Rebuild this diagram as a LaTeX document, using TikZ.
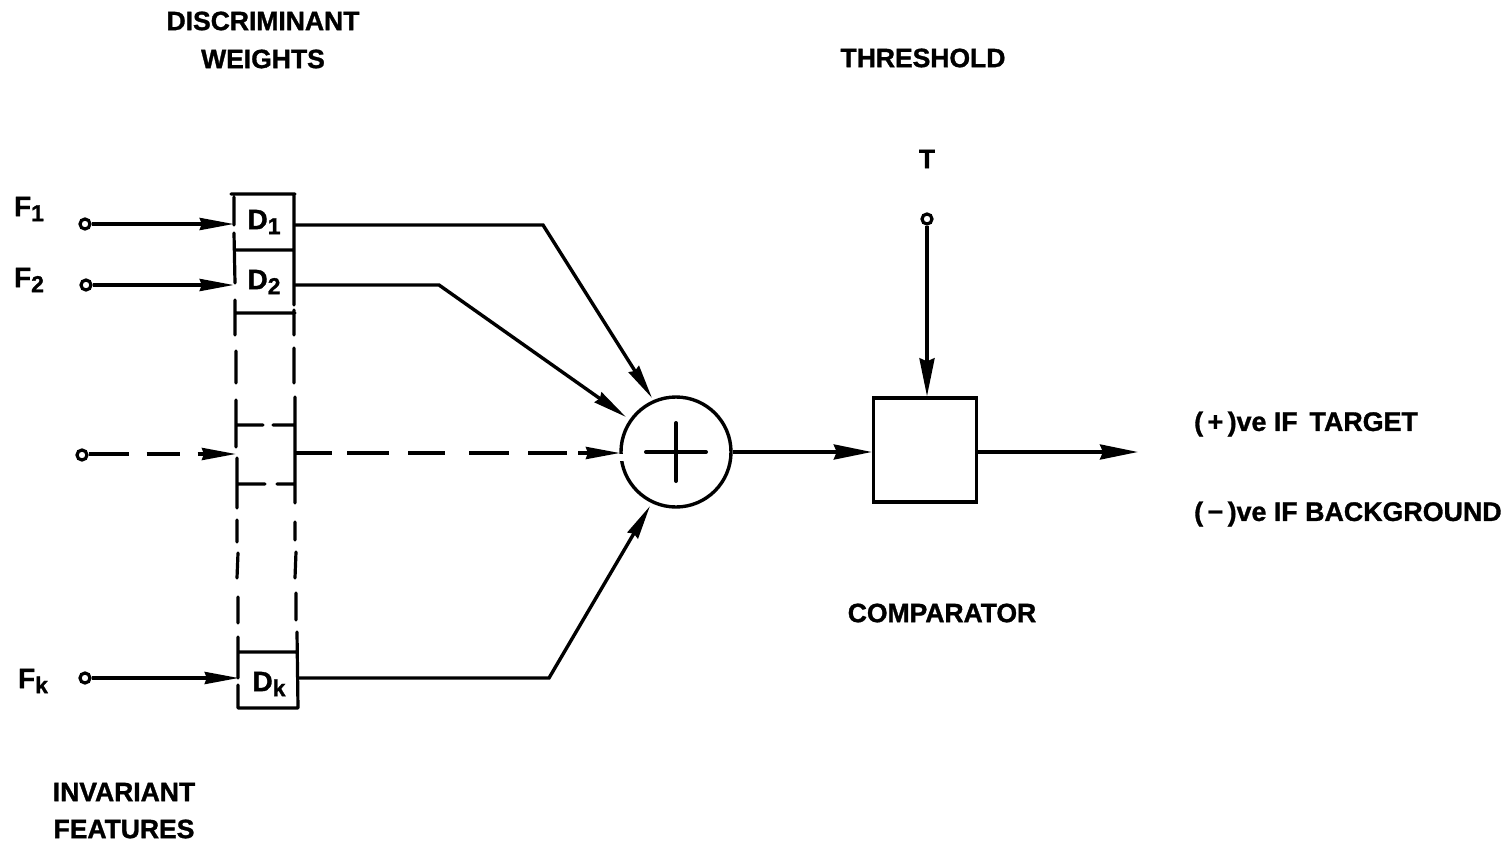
\documentclass[tikz,border=0pt]{standalone}
\usepackage{fontspec}
\setmainfont{Liberation Sans}[BoldFeatures={FakeBold=1.2}]
\usetikzlibrary{arrows.meta,calc}
\newcommand{\lowidx}[1]{\raisebox{-5pt}{\fontsize{23}{23}\selectfont #1}}
\tikzset{
 wire/.style={line width=3.4pt,-{Stealth[length=34pt,width=12pt,inset=2pt]}},
 bigwire/.style={line width=3.4pt,-{Stealth[length=38pt,width=15pt,inset=3pt]}},
 plain/.style={line width=3.2pt},
 term/.style={circle,draw,line width=3.2pt,inner sep=0pt,minimum size=10pt},
 lab/.style={font=\bfseries\fontsize{26.5}{26}\selectfont,inner sep=0pt,anchor=center},
 longlab/.style={font=\bfseries\fontsize{26.8}{26}\selectfont,inner sep=0pt,anchor=west},
 sym/.style={font=\bfseries\fontsize{28}{28}\selectfont,inner sep=0pt,anchor=center},
 dbox/.style={sym,draw=none,minimum width=60pt,inner sep=0pt}
}
\begin{document}
\begin{tikzpicture}[x=1pt,y=-1pt]
\useasboundingbox (0,0) rectangle (1508,843);
\fill[white] (0,0) rectangle (1508,843);
% labels
\node[lab] (l1) at (263,21) {DISCRIMINANT};
\node[lab] (l2) at (263,59) {WEIGHTS};
\node[lab] (l3) at (923,58) {THRESHOLD};
\node[lab] (l4) at (927,159) {T};
\node[lab] (l5) at (942,613) {COMPARATOR};
\node[lab] (l6) at (124,792) {INVARIANT};
\node[lab] (l7) at (124,829) {FEATURES};
\node[longlab] (l8) at (1194,424) {(\,+\,)ve IF\, TARGET};
\node[longlab] (l9) at (1194,514) {(\,−\,)ve IF BACKGROUND};
\node[sym] (f1) at (29,209) {F\lowidx{1}};
\node[sym] (f2) at (29,280) {F\lowidx{2}};
\node[sym] (fk) at (33,681) {F\lowidx{k}};
% terminals
\node[term] (t1) at (85,224) {};
\node[term] (t2) at (86,285) {};
\node[term] (t3) at (82,455) {};
\node[term] (tk) at (85,678) {};
\node[term] (tt) at (927,219) {};
% D cells
\node[dbox,minimum height=56pt] (d1) at (264,222) {D\lowidx{1}};
\node[dbox,minimum height=60pt] (d2) at (264,282) {D\lowidx{2}};
\node[dbox,minimum height=56pt] (dk) at (269,684) {D\lowidx{k}};
% column outline
\draw[plain,line cap=round]
 (231,194) -- (295,194)
 (234,197) -- (234,225) (234,233) -- (235,283) (235,300) -- (235,335)
 (236,351) -- (236,383) (236,400) -- (236,447) (237,458) -- (237,508)
 (237,520) -- (237,542) (238,553) -- (237,578) (238,597) -- (238,623)
 (238,637) -- (238,678) (238,685) -- (238,708)
 (294,194) -- (294,305) (294,310) -- (294,335) (294,348) -- (294,383)
 (295,397) -- (295,503) (295,522) -- (295,540) (296,552) -- (295,578)
 (296,593) -- (296,620) (297,632) -- (298,708)
 (238,708) -- (298,708)
 (235,250) -- (294,250)
 (236,313) -- (295,313)
 (236,425) -- (263,425) (273,425) -- (294,425)
 (238,484) -- (265,484) (277,484) -- (295,484)
 (238,652) -- (297,652);
% summer
\node[circle,draw,line width=3.4pt,minimum size=110pt,inner sep=0pt] (sum) at (676,452) {};
\draw[white,line width=7pt] (614,457) -- (626,457);
\draw[line width=4pt,line cap=round] ($(sum.center)+(-30,0)$) -- ($(sum.center)+(30,0)$);
\draw[line width=4pt,line cap=round] ($(sum.center)+(0,-29)$) -- ($(sum.center)+(0,29)$);
% comparator
\node[draw,line width=3.4pt,minimum width=103pt,minimum height=104pt,inner sep=0pt] (cmp) at (925,450) {};
% inputs
\draw[wire] (t1) -- (d1.west |- t1);
\draw[wire] (t2) -- (d2.west |- t2);
\draw[wire] (tk) -- (dk.west |- tk);
% outputs
\coordinate (k1) at (543,225);
\coordinate (k2) at (439,285);
\coordinate (k3) at (549,678);
\coordinate (e1) at (652,398);
\coordinate (e2) at (626,417);
\coordinate (e3) at (650,506);
\draw[wire] (d1.east |- k1) -- (k1) -- (e1);
\draw[wire] (d2.east |- k2) -- (k2) -- (e2);
\draw[wire] (dk.east |- k3) -- (k3) -- (e3);
% middle dashed line
\coordinate (mi) at (236,454);
\coordinate (mo) at (295,453);
\coordinate (si) at (620,453);
\draw[wire,dash pattern=on 40pt off 18pt on 33pt off 18pt on 60pt] (t3.east |- mi) -- (mi);
\draw[wire,dash pattern=on 37pt off 15pt on 42pt off 19pt on 37pt off 24pt on 40pt off 19pt on 39pt off 11pt on 60pt] (mo) -- (si);
% threshold
\draw[bigwire] (tt) -- (cmp.north -| tt);
% sum->cmp
\draw[bigwire] (sum.east) -- (sum.east -| cmp.west);
\coordinate (out) at (1138,452);
\draw[bigwire] (cmp.east |- out) -- (out);
\end{tikzpicture}
\end{document}
